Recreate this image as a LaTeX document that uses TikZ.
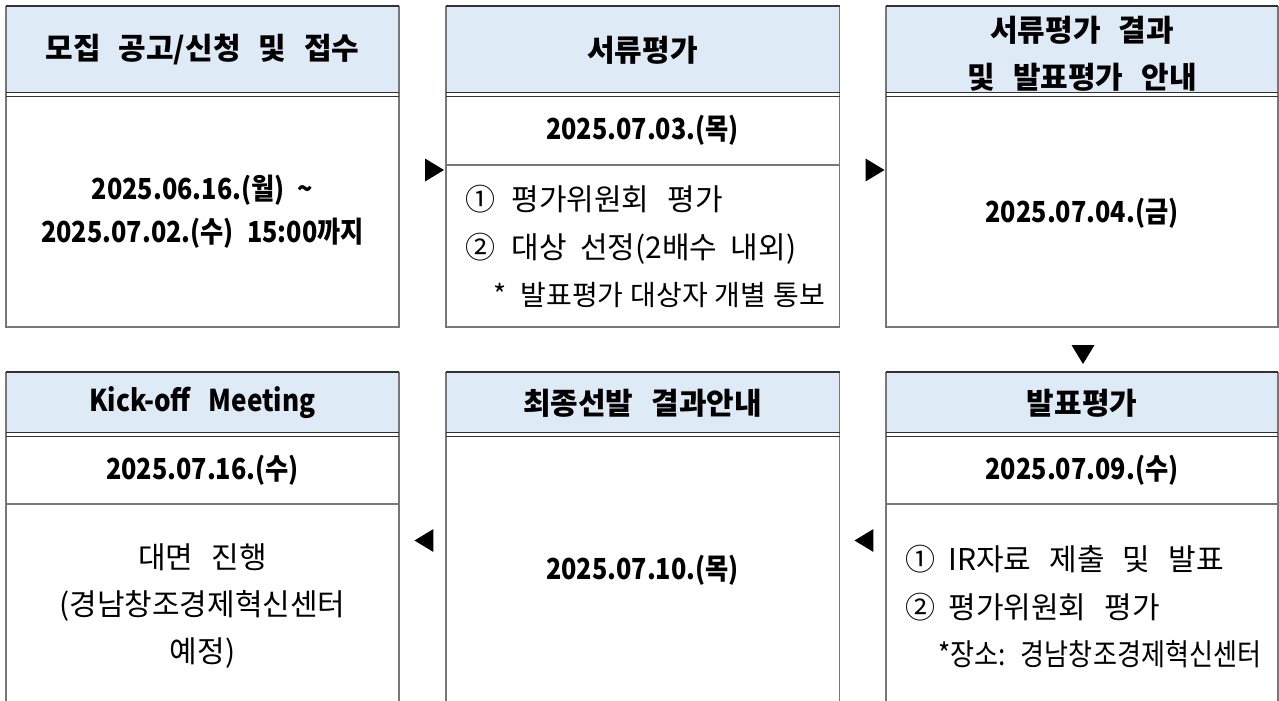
\documentclass[tikz,border=0pt]{standalone}
\usepackage{fontspec}
\setmainfont{Noto Sans CJK KR}
\newfontfamily\narrowkr{Noto Sans CJK KR}[FakeStretch=0.87]
\usetikzlibrary{shapes.geometric}
\definecolor{headblue}{RGB}{222,234,246}
\definecolor{edgegray}{RGB}{120,120,120}
\definecolor{topgray}{RGB}{50,50,50}
\newcommand{\widegap}{\spaceskip=.6em plus .1em\relax}
\tikzset{
	title/.style={font={\bfseries\fontsize{15}{23.5}\selectfont\widegap}, align=center},
	day/.style={font={\narrowkr\bfseries\fontsize{14.5}{21.5}\selectfont\spaceskip=.45em\relax}, align=center},
	note/.style={font={\fontsize{15}{23.6}\selectfont\widegap}, align=left},
	tri/.style={isosceles triangle, isosceles triangle stretches, fill=black, inner sep=0pt, minimum height=9.5pt, minimum width=11.5pt}
}

\begin{document}
\begin{tikzpicture}[x=0.5pt, y=-0.5pt]
			\useasboundingbox (0,0) rectangle (1279,701);
			% boxes of the top row
			\foreach \l/\r in {6/399, 446/839.5, 886/1278}
			{
			\fill[headblue] (\l,6) rectangle (\r,92.5);
			\draw[edgegray, line width=0.75pt] (\l,6) -- (\l,327) -- (\r,327) -- (\r,6);
			\draw[topgray, line width=1pt] (\l,6) -- (\r,6);
			\draw[topgray, line width=0.6pt] (\l,92.5) -- (\r,92.5);
			\draw[topgray, line width=0.6pt] (\l,96.5) -- (\r,96.5);
			}
			\draw[edgegray, line width=0.6pt] (446,165) -- (839.5,165);
			% boxes of the bottom row
			\foreach \l/\r in {6/399, 446/839.5, 886/1278}
			{
			\fill[headblue] (\l,372) rectangle (\r,432.5);
			\draw[edgegray, line width=0.75pt] (\l,372) -- (\l,701);
			\draw[edgegray, line width=0.75pt] (\r,372) -- (\r,701);
			\draw[topgray, line width=1pt] (\l,372) -- (\r,372);
			\draw[topgray, line width=0.6pt] (\l,432.5) -- (\r,432.5);
			\draw[topgray, line width=0.6pt] (\l,436.5) -- (\r,436.5);
			}
			\draw[edgegray, line width=0.6pt] (6,504) -- (399,504);
			\draw[edgegray, line width=0.6pt] (886,504) -- (1278,504);
			% texts
			\node[title] (recruit) at (202.5,50) {모집 공고/신청 및 접수};
			\node[day] (recruitday) at (202.5,211.5) {2025.06.16.(월) \textasciitilde\\2025.07.02.(수) 15:00까지};
			\node[title] (paper) at (642.5,50) {서류평가};
			\node[day] (paperday) at (642.5,130) {2025.07.03.(목)};
			\node[note, anchor=west] (papernote) at (458,246.5) {①\hspace{.55em}평가위원회 평가\\②\hspace{.55em}{\spaceskip=.45em\relax 대상 선정(2배수 내외)}\\\hspace{.95em}{\fontsize{14}{23.6}\selectfont\spaceskip=.25em\relax *\hspace{.5em}발표평가 대상자 개별 통보}};
			\node[title] (result) at (1082,53.5) {서류평가 결과\\및 발표평가 안내};
			\node[day] (resultday) at (1082,213) {2025.07.04.(금)};
			\node[title] (pitch) at (1082,403) {발표평가};
			\node[day] (pitchday) at (1082,470) {2025.07.09.(수)};
			\node[note, anchor=west] (pitchnote) at (898,606.5) {①\hspace{.45em}IR자료 제출 및 발표\\②\hspace{.45em}평가위원회 평가\\\hspace{1.1em}{\narrowkr\spaceskip=.45em\relax *장소: 경남창조경제혁신센터}};
			\node[title] (final) at (642.5,403) {최종선발 결과안내};
			\node[day] (finalday) at (642.5,570) {2025.07.10.(목)};
			\node[day, font={\narrowkr\bfseries\fontsize{15}{21.5}\selectfont\spaceskip=.6em\relax}] (kickoff) at (202.5,403) {Kick-off Meeting};
			\node[day] (kickoffday) at (202.5,470) {2025.07.16.(수)};
			\node[note, align=center] (kickoffnote) at (202.5,606) {대면 진행\\(경남창조경제혁신센터\\예정)};
			% flow marks
			\node[tri] (m1) at (431.5,170) {};
			\node[tri] (m2) at (872,170) {};
			\node[tri, rotate=-90] (m3) at (1083,351.5) {};
			\node[tri, rotate=180] (m4) at (867,540.5) {};
			\node[tri, rotate=180] (m5) at (427,540.5) {};
		\end{tikzpicture}
\end{document}
